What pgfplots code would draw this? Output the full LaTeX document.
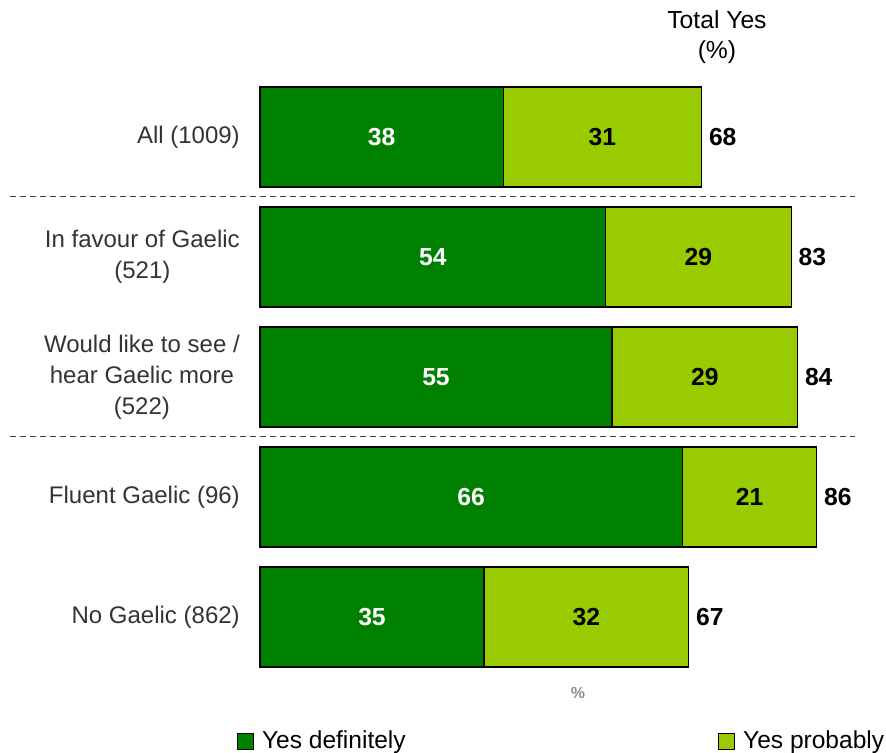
\documentclass[border=0pt]{standalone}
\usepackage{fontspec}
\setmainfont{Liberation Sans}
\usepackage{pgfplots}
\usepackage{pgfplotstable}
\pgfplotsset{compat=1.18}

\definecolor{dgreen}{HTML}{008000}
\definecolor{lgreen}{HTML}{99CC00}
\definecolor{labgrey}{HTML}{333333}

% y = row position (5 = top), def / prob = segments, tot = printed total
\pgfplotstableread{
y def prob gap tot
5 38 31 0.01 68
4 54 29 0.01 83
3 55 29 0.01 84
2 66 21 0.01 86
1 35 32 0.01 67
}\gaelic

\begin{document}
\begin{tikzpicture}
\path[use as bounding box] (0,0) rectangle (664.5pt,564.75pt);
\begin{axis}[
    at={(195pt,12pt)}, anchor=south west,
    scale only axis, width=480pt, height=540pt,
    xbar stacked, bar width=0.8333,
    xmin=0, xmax=100, ymin=0, ymax=6,
    clip=false,
    axis line style={draw=none},
    major tick length=0pt,
    xtick=\empty,
    ytick={1,2,3,4,5},
    yticklabels={No Gaelic (862), Fluent Gaelic (96), {Would like to see /\\hear Gaelic more\\(522)}, {In favour of Gaelic\\(521)}, All (1009)},
    yticklabel style={align=center, text=labgrey, font=\fontsize{18}{23.3}\selectfont, inner sep=0pt, xshift=-15pt},
    legend style={at={(axis cs:-4.22,-0.033)}, anchor=west, draw=none, fill=none,
        legend columns=2, font=\fontsize{18.4}{20}\selectfont,
        /tikz/every odd column/.append style={column sep=4pt},
        /tikz/every even column/.append style={column sep=232.5pt}},
    legend image code/.code={\draw[#1,draw=black,line width=0.6pt] (0pt,-6pt) rectangle (12pt,6pt);},
]
\addplot[fill=dgreen, draw=black, line width=0.8pt,
    point meta=explicit symbolic, nodes near coords={\pgfplotspointmeta},
    every node near coord/.append style={anchor=center, text=white,
        font=\fontsize{18.5}{20}\selectfont\bfseries}]
    table[x=def, y=y, meta=def] {\gaelic};
\addplot[fill=lgreen, draw=black, line width=0.8pt,
    point meta=explicit symbolic, nodes near coords={\pgfplotspointmeta},
    every node near coord/.append style={anchor=center, text=black,
        font=\fontsize{18.5}{20}\selectfont\bfseries}]
    table[x=prob, y=y, meta=prob] {\gaelic};
\addplot[draw=none, fill=none,
    point meta=explicit symbolic, nodes near coords={\pgfplotspointmeta},
    every node near coord/.append style={anchor=west, text=black,
        font=\fontsize{18.5}{20}\selectfont\bfseries, xshift=2pt}]
    table[x=gap, y=y, meta=tot] {\gaelic};
\legend{Yes definitely, Yes probably}

\draw[dashed, dash pattern=on 4.5pt off 3pt, color=black!75, line width=0.75pt]
    (axis cs:-39.06,4.5) -- (axis cs:92.97,4.5);
\draw[dashed, dash pattern=on 4.5pt off 3pt, color=black!75, line width=0.75pt]
    (axis cs:-39.06,2.5) -- (axis cs:92.97,2.5);
\node[align=center, font=\fontsize{18.5}{22.5}\selectfont] at (axis cs:71.4,5.83) {Total Yes\\(\%)};
\node[text=black!45, font=\fontsize{12}{14}\selectfont\bfseries] at (axis cs:49.7,0.367) {\%};
\end{axis}
\end{tikzpicture}
\end{document}
